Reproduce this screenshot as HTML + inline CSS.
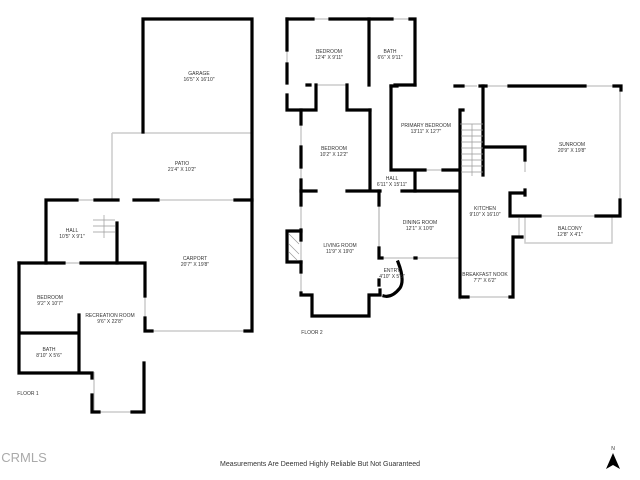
<!DOCTYPE html>
<html><head><style>body{margin:0;background:#fff}svg{display:block}text{font-family:"Liberation Sans",sans-serif;fill:#333;text-anchor:middle}</style></head><body>
<svg width="640" height="480" viewBox="0 0 640 480" xmlns="http://www.w3.org/2000/svg">
<g stroke="#ccc" stroke-width="1.5" fill="none">
<path d="M112 133H252M112 133V200M160 200H235M145 331H245M94 372V412M525 216V243H612V216M379 191V258M460 300V191"/>
<path d="M77 200H95M64 263H81M145 296V318M99 412H132M313 19H330M392 19H410M287 50V64M301 124V147M301 167V180M301 205V230M301 240V262M301 272V293M312 316H369M379 258H460M463 86H477M585 86H614M620 90V200M540 216H596M425 170H443M468 297H510M519 218V237M525 160V172M379 205V248M486 86H509M316 85H347"/>
</g>
<g stroke="#000" stroke-width="3.2" fill="none" stroke-linecap="square">
<path d="M143 132V19H252V331H245"/>
<path d="M46 263V200H77M95 200H118M134 200H158M235 200H252"/>
<path d="M117 223V263"/>
<path d="M19 263H64M81 263H145V296M145 318V331H152"/>
<path d="M19 263V373H92V378M19 333H79M79 315V373"/>
<path d="M92 395V412H99M132 412H144V363"/>
<path d="M287 19H313M330 19H392M410 19H415V85"/>
<path d="M287 19V50M287 64V83M287 95V110H316V85M307 85H310M347 85V110H370"/>
<path d="M369 19V85M395 85H415"/>
<path d="M301 110V124M301 147V167M301 180V191M370 110V191M301 191H316M347 191H380M402 191H458"/>
<path d="M301 191V205M301 230V240M301 262V272M301 293V295H312V316H369V295H380V290"/>
<path d="M287 231H301M287 262H301M287 231V262"/>
<path d="M379 191V205M379 248V258H382M415 258H416"/>
<path d="M379 280V285M384 296Q392 298 400 288Q405 280 398 262"/>
<path d="M391 86H397M455 86H463M480 86H486M509 86H585M614 86H621V90M620 200V216H596"/>
<path d="M391 86V170H425M443 170H458M415 170V191"/>
<path d="M483 86V175M460 110H463M460 110V297H468M510 297H513V237H522"/>
<path d="M483 147H525V160M510 193H525M510 193V216H540M525 190V195"/>
</g>
<g stroke="#999" stroke-width="0.7">
<path d="M461 130H483M461 136H483M461 142H483M461 148H483M461 154H483M461 160H483M461 166H483M461 172H483M472 124V176M460 124H483"/>
<path d="M93 220H115M93 226H115M93 232H115M104 215V238"/>
<path d="M289 234L299 244M289 244L299 254M289 252L297 260"/>
</g>
<g font-size="5">
<text x="199" y="75">GARAGE</text><text x="199" y="81">16'5" X 16'10"</text>
<text x="182" y="165">PATIO</text><text x="182" y="171">21'4" X 10'2"</text>
<text x="72" y="232">HALL</text><text x="72" y="238">10'5" X 9'1"</text>
<text x="195" y="260">CARPORT</text><text x="195" y="266">20'7" X 19'8"</text>
<text x="50" y="299">BEDROOM</text><text x="50" y="305">9'2" X 10'7"</text>
<text x="110" y="317">RECREATION ROOM</text><text x="110" y="323">9'6" X 22'8"</text>
<text x="49" y="351">BATH</text><text x="49" y="357">8'10" X 5'6"</text>
<text x="28" y="395">FLOOR 1</text>
<text x="329" y="53">BEDROOM</text><text x="329" y="59">12'4" X 9'11"</text>
<text x="390" y="53">BATH</text><text x="390" y="59">6'6" X 9'11"</text>
<text x="426" y="127">PRIMARY BEDROOM</text><text x="426" y="133">13'11" X 12'7"</text>
<text x="334" y="150">BEDROOM</text><text x="334" y="156">10'2" X 12'2"</text>
<text x="572" y="146">SUNROOM</text><text x="572" y="152">20'9" X 19'8"</text>
<text x="392" y="180">HALL</text><text x="392" y="186">6'11" X 15'11"</text>
<text x="485" y="210">KITCHEN</text><text x="485" y="216">9'10" X 16'10"</text>
<text x="420" y="224">DINING ROOM</text><text x="420" y="230">12'1" X 10'0"</text>
<text x="570" y="230">BALCONY</text><text x="570" y="236">12'8" X 4'1"</text>
<text x="340" y="247">LIVING ROOM</text><text x="340" y="253">11'9" X 19'0"</text>
<text x="392" y="272">ENTRY</text><text x="392" y="278">4'10" X 5'5"</text>
<text x="485" y="276">BREAKFAST NOOK</text><text x="485" y="282">7'7" X 6'2"</text>
<text x="312" y="334">FLOOR 2</text>
</g>
<text x="320" y="466" font-size="7">Measurements Are Deemed Highly Reliable But Not Guaranteed</text>
<text x="24" y="462" font-size="13" style="fill:#aaa">CRMLS</text>
<text x="613" y="450" font-size="5">N</text>
<path d="M613 453L606 469L613 465L620 469Z" fill="#000"/>
</svg>
</body></html>
